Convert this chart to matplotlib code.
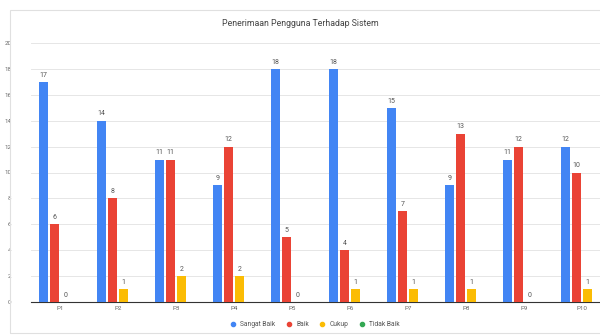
import matplotlib
matplotlib.use("Agg")
import matplotlib.pyplot as plt
import numpy as np
from matplotlib.patches import Rectangle

categories = ["P1", "P2", "P3", "P4", "P5", "P6", "P7", "P8", "P9", "P10"]
series_names = ["Sangat Baik", "Baik", "Cukup", "Tidak Baik"]
sangat_baik = [17, 14, 11, 9, 18, 18, 15, 9, 11, 12]
baik = [6, 8, 11, 12, 5, 4, 7, 13, 12, 10]
cukup = [0, 1, 2, 2, 0, 1, 1, 1, 0, 1]
tidak_baik = [0, 0, 0, 0, 0, 0, 0, 0, 0, 0]
colors = ["#4285F4", "#EA4335", "#FBBC04", "#34A853"]
y_ticks = [0, 2, 4, 6, 8, 10, 12, 14, 16, 18, 20]

plt.rcParams['font.family'] = ['Roboto', 'DejaVu Sans']

fig = plt.figure(figsize=(6, 3.36), dpi=100)
fig.patch.set_facecolor("white")
# outer chart border
fig.add_artist(Rectangle((10/600, 1 - 333/336), 600, 323/336, transform=fig.transFigure,
                         fill=False, edgecolor="#e0e0e0", linewidth=0.8))

ax = fig.add_axes([31/600, 1 - 302/336, 580/600, 259/336])
x = np.arange(len(categories))
step = 0.19
width = 0.145
data = [sangat_baik, baik, cukup, tidak_baik]
for i, (vals, name, c) in enumerate(zip(data, series_names, colors)):
    pos = x + (i - 1.5) * step
    ax.bar(pos, vals, width=width, color=c, label=name, zorder=3)
    if i < 3:
        for p, v in zip(pos, vals):
            ax.text(p, v + 0.25, str(v), ha="center", va="bottom",
                    fontsize=5, color="#555555", zorder=4)

ax.set_xlim(-0.5, len(categories) - 0.5)
ax.set_ylim(0, 20)
ax.set_yticks(y_ticks)
ax.set_yticklabels([str(t) for t in y_ticks], fontsize=4.5, color="#666666")
ax.set_xticks(x)
ax.set_xticklabels(categories, fontsize=4.5, color="#666666")
ax.tick_params(axis="both", length=0, pad=3)
ax.yaxis.set_tick_params(pad=14)
ax.grid(axis="y", color="#e6e6e6", linewidth=0.7, zorder=0)
for s in ["top", "right", "left"]:
    ax.spines[s].set_visible(False)
ax.spines["bottom"].set_color("#333333")
ax.spines["bottom"].set_linewidth(0.8)

fig.text(300/600, 1 - 23/336, "Penerimaan Pengguna Terhadap Sistem",
         ha="center", va="center", fontsize=6.3, color="#444444")

handles = [plt.Line2D([0], [0], marker="o", linestyle="", markersize=3,
                      markerfacecolor=c, markeredgecolor=c) for c in colors]
fig.legend(handles, series_names, loc="center", bbox_to_anchor=(313/600, 1 - 325/336),
           ncol=4, frameon=False, fontsize=4.8, handletextpad=0.1, columnspacing=1.0,
           labelcolor="#555555")

fig.savefig("out.png", dpi=100, facecolor="white")
